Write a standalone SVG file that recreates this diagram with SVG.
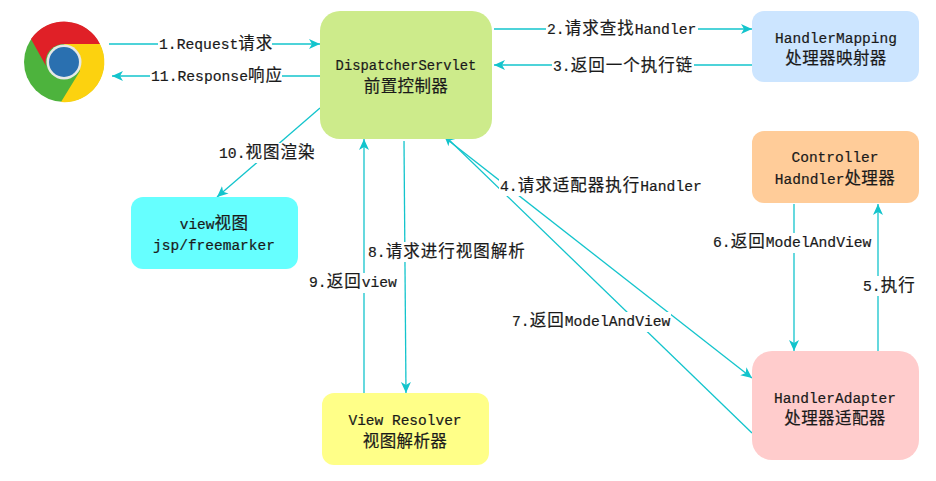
<svg xmlns="http://www.w3.org/2000/svg" width="936" height="481" viewBox="0 0 936 481">
<defs><marker id="a" markerUnits="userSpaceOnUse" markerWidth="14" markerHeight="12" refX="11" refY="5" orient="auto"><path d="M0 0L11 5L0 10L3 5Z" fill="#13c4cc"/></marker></defs>
<style>
text{font-family:"Liberation Mono","Noto Sans CJK SC",monospace;font-size:14.500px;fill:#1a1a1a;stroke:#1a1a1a;stroke-width:.2}
tspan{font-size:16.5px;letter-spacing:.4px}
#labels text{font-size:14.7px}
#labels tspan{font-size:16.5px;letter-spacing:1px}
.n{text-anchor:middle}
.c line{stroke:#13c4cc;stroke-width:1.3;marker-end:url(#a)}
.l{fill:#fff}
</style>
<rect width="936" height="481" fill="#fff"/>
<g class="c" id="connectors">
<line x1="109" y1="44" x2="320" y2="44"/>
<line x1="320" y1="76" x2="112" y2="76"/>
<line x1="494" y1="29" x2="752" y2="29"/>
<line x1="752" y1="65" x2="494" y2="65"/>
<line x1="320" y1="108" x2="217" y2="197"/>
<line x1="364" y1="393" x2="364" y2="139"/>
<line x1="404" y1="141" x2="406" y2="393"/>
<line x1="444" y1="137" x2="752" y2="378"/>
<line x1="752" y1="433" x2="444" y2="135"/>
<line x1="878" y1="351" x2="878" y2="204"/>
<line x1="794" y1="204" x2="794" y2="351"/>
</g>
<g id="browser">
<circle cx="64" cy="62" r="40" fill="#4db33d"/>
<path d="M31 39A40 40 0 0 1 100 44L64 44A18 18 0 0 0 46 66Z" fill="#e02027"/>
<path d="M100 44A40 40 0 0 1 61 102L80 71L64 44Z" fill="#fcd20f"/>
<circle cx="64" cy="62" r="17.500" fill="#e6e8e6"/>
<circle cx="64" cy="62" r="15" fill="#2a70b0"/>
</g>
<g id="dispatcher"><rect x="320" y="11" width="172" height="128" rx="20" fill="#cdeb8b"/><text class="n" x="406" y="70" style="font-size:13.800px">DispatcherServlet</text><text class="n" x="406" y="92"><tspan>前置控制器</tspan></text></g>
<g id="mapping"><rect x="752" y="11" width="167" height="71" rx="12" fill="#cce5ff"/><text class="n" x="836" y="43">HandlerMapping</text><text class="n" x="836" y="64"><tspan>处理器映射器</tspan></text></g>
<g id="controller"><rect x="752" y="131" width="167" height="72" rx="12" fill="#ffcc99"/><text class="n" x="835" y="162">Controller</text><text class="n" x="835" y="184">Hadndler<tspan>处理器</tspan></text></g>
<g id="view"><rect x="131" y="197" width="167" height="72" rx="12" fill="#66ffff"/><text class="n" x="214" y="229">view<tspan>视图</tspan></text><text class="n" x="214" y="250">jsp/freemarker</text></g>
<g id="adapter"><rect x="752" y="351" width="167" height="109" rx="20" fill="#ffcccc"/><text class="n" x="835" y="403">HandlerAdapter</text><text class="n" x="835" y="424"><tspan>处理器适配器</tspan></text></g>
<g id="resolver"><rect x="322" y="393" width="167" height="72" rx="12" fill="#ffff88"/><text class="n" x="405" y="425">View Resolver</text><text class="n" x="405" y="447"><tspan>视图解析器</tspan></text></g>
<g id="labels">
<rect class="l" x="158" y="34" width="114" height="20"/><text x="159" y="49">1.Request<tspan>请求</tspan></text>
<rect class="l" x="150" y="66" width="132" height="20"/><text x="151" y="81">11.Response<tspan>响应</tspan></text>
<rect class="l" x="546" y="19" width="152" height="20"/><text x="547" y="34">2.<tspan>请求查找</tspan>Handler</text>
<rect class="l" x="552" y="56" width="142" height="20"/><text x="553" y="71">3.<tspan>返回一个执行链</tspan></text>
<rect class="l" x="218" y="143" width="98" height="20"/><text x="219" y="158">10.<tspan>视图渲染</tspan></text>
<rect class="l" x="499" y="176" width="204" height="20"/><text x="500" y="191">4.<tspan>请求适配器执行</tspan>Handler</text>
<rect class="l" x="712" y="233" width="160" height="20"/><text x="713" y="247">6.<tspan>返回</tspan>ModelAndView</text>
<rect class="l" x="367" y="242" width="160" height="20"/><text x="368" y="257">8.<tspan>请求进行视图解析</tspan></text>
<rect class="l" x="308" y="273" width="90" height="20"/><text x="309" y="287">9.<tspan>返回</tspan>view</text>
<rect class="l" x="862" y="276" width="56" height="20"/><text x="863" y="291">5.<tspan>执行</tspan></text>
<rect class="l" x="511" y="312" width="160" height="20"/><text x="512" y="326">7.<tspan>返回</tspan>ModelAndView</text>
</g>
</svg>
